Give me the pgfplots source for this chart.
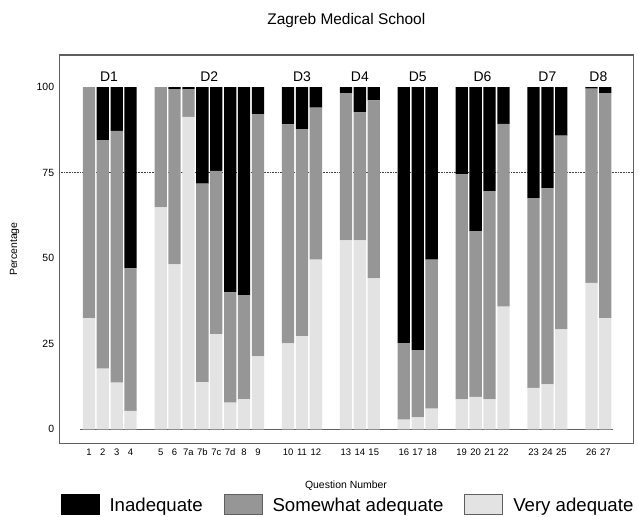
\documentclass[border=0pt]{standalone}
\usepackage{fontspec}
\setmainfont{Liberation Sans}
\usepackage{pgfplots}
\usepackage{pgfplotstable}
\pgfplotsset{compat=1.18}

\definecolor{midgray}{RGB}{150,150,150}
\definecolor{palegray}{RGB}{227,227,227}
\definecolor{framegray}{RGB}{95,95,95}

% x = bar position, very / somewhat / inadequate in percent
\pgfplotstableread{
x       very  some  inad
0       32.5  67.5  0
1       17.7  66.8  15.5
2       13.6  73.6  12.8
3       5.4   41.6  53.0
5.165   64.8  35.2  0
6.165   48.2  51.2  0.6
7.165   91.3  8.1   0.6
8.165   13.8  58.0  28.2
9.165   27.8  47.7  24.5
10.165  7.8   32.2  60.0
11.165  8.8   30.4  60.8
12.165  21.3  70.8  7.9
14.33   25.1  64.0  10.9
15.33   27.2  60.5  12.3
16.33   49.6  44.4  6.0
18.495  55.2  43.0  1.8
19.495  55.2  37.4  7.4
20.495  44.1  52.0  3.9
22.66   2.8   22.4  74.8
23.66   3.5   19.6  76.9
24.66   6.0   43.6  50.4
26.825  8.7   65.8  25.5
27.825  9.5   48.4  42.1
28.825  8.7   60.9  30.4
29.825  35.8  53.4  10.8
31.99   12.1  55.4  32.5
32.99   13.1  57.3  29.6
33.99   29.2  56.6  14.2
36.155  42.8  56.7  0.5
37.155  32.5  65.7  1.8
}\zagreb

\tikzset{dlab/.style={font=\fontsize{14}{16}\selectfont}}

\begin{document}
\begin{tikzpicture}
\path[use as bounding box] (0bp,0bp) rectangle (638bp,-517bp);
\begin{axis}[
  at={(59.3bp,-443.3bp)}, anchor=south west,
  width=574bp, height=388.3bp, scale only axis,
  xmin=-2.13, xmax=39.17,
  ymin=-4.1, ymax=109.35,
  ybar stacked, bar width=0.885,
  axis line style={draw=framegray, line width=1.2bp},
  major tick length=0pt,
  /pgf/number format/assume math mode=true,
  ytick={0,25,50,75,100},
  yticklabel style={font=\fontsize{10.5}{12}\selectfont, inner sep=0pt, anchor=east, xshift=-5bp},
  xtick=data,
  xticklabels={1,2,3,4,5,6,7a,7b,7c,7d,8,9,10,11,12,13,14,15,16,17,18,19,20,21,22,23,24,25,26,27},
  xticklabel style={font=\fontsize{9.5}{11}\selectfont, inner sep=0pt, anchor=north, yshift=-5bp},
  every axis title shift=0pt,
  title={Zagreb Medical School},
  title style={font=\fontsize{15.5}{18}\selectfont, at={(axis description cs:0.5,1.09)}, anchor=center},
  xlabel={Question Number},
  xlabel style={font=\fontsize{10.5}{12}\selectfont, at={(axis description cs:0.4995,-0.110)}, anchor=center},
  ylabel={Percentage},
  ylabel style={font=\fontsize{10.5}{12}\selectfont, at={(axis description cs:-0.078,0.5)}, anchor=center},
  legend columns=3,
  reverse legend,
  legend style={draw=none, fill=none, inner sep=0pt,
    at={(axis description cs:0.5017,-0.1563)}, anchor=center,
    font=\fontsize{18.7}{22}\selectfont,
    nodes={inner sep=0pt},
    cells={anchor=base west},
    /tikz/every odd column/.append style={column sep=10bp},
    /tikz/every even column/.append style={column sep=21bp}},
  legend image code/.code={\draw[#1] (0bp,-2bp) rectangle (38bp,18bp);},
]
\addplot[fill=palegray, draw=none, legend image post style={draw=framegray, line width=0.8bp}] table[x=x, y=very] {\zagreb};
\addlegendentry{Very adequate}
\addplot[fill=midgray, draw=none, legend image post style={draw=framegray, line width=0.8bp}] table[x=x, y=some] {\zagreb};
\addlegendentry{Somewhat adequate}
\addplot[fill=black, draw=none] table[x=x, y=inad] {\zagreb};
\addlegendentry{Inadequate}

\draw[framegray, line width=1bp] (axis cs:-0.64,0) -- (axis cs:37.69,0);
\draw[black!75, densely dotted, line width=0.6bp] (axis cs:-2.13,75) -- (axis cs:39.17,75);

\node[dlab] at (axis cs:1.45,103) {D1};
\node[dlab] at (axis cs:8.665,103) {D2};
\node[dlab] at (axis cs:15.33,103) {D3};
\node[dlab] at (axis cs:19.495,103) {D4};
\node[dlab] at (axis cs:23.66,103) {D5};
\node[dlab] at (axis cs:28.325,103) {D6};
\node[dlab] at (axis cs:32.99,103) {D7};
\node[dlab] at (axis cs:36.655,103) {D8};
\end{axis}
\end{tikzpicture}
\end{document}
